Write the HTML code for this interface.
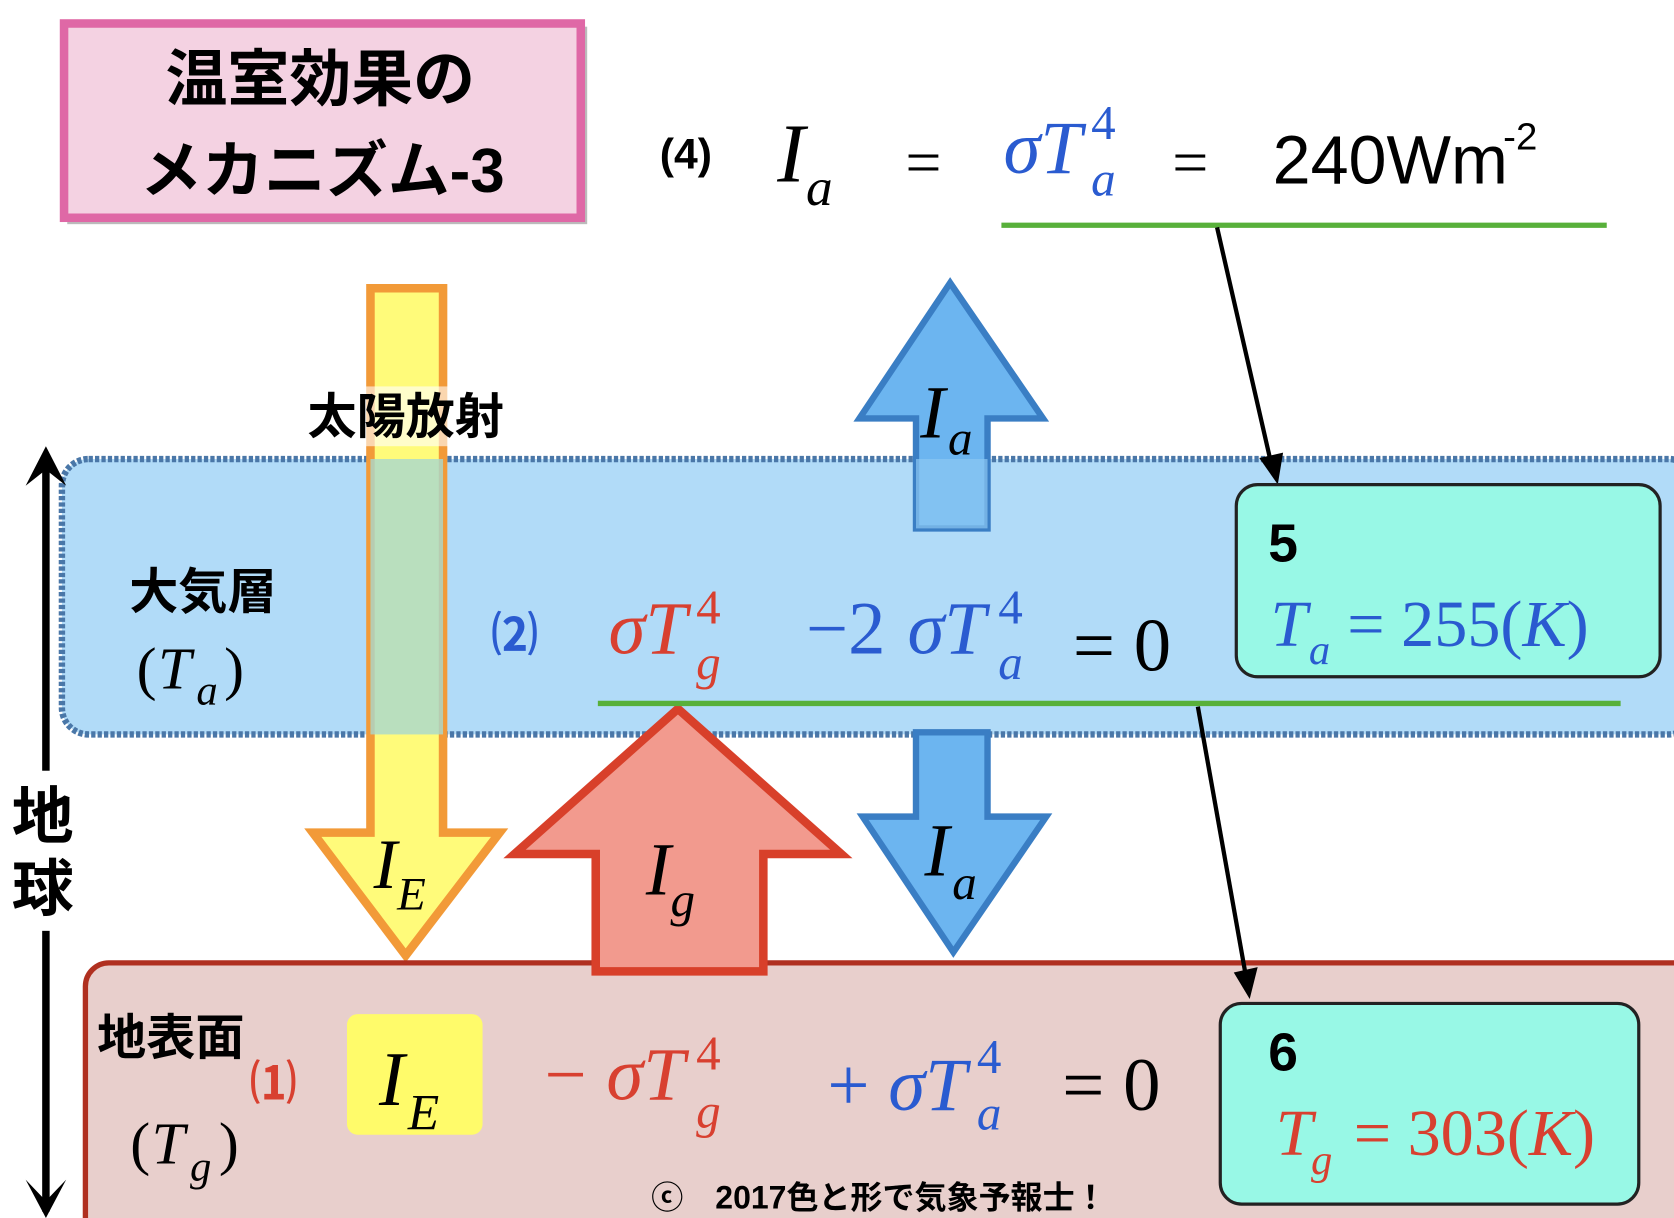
<!DOCTYPE html>
<html><head><meta charset="utf-8"><style>
html,body{margin:0;padding:0;background:#fff;}
svg{display:block;}
.jp{font-family:"Liberation Sans","Noto Sans CJK JP",sans-serif;font-weight:bold;}
.m{font-family:"Liberation Serif","DejaVu Serif",serif;}
</style></head><body>
<svg width="1674" height="1218" viewBox="0 0 1568 1141" preserveAspectRatio="none" xmlns="http://www.w3.org/2000/svg">
<rect width="1568" height="1141" fill="#fff"/>
<rect x="63" y="25" width="487" height="185" fill="#bbb"/>
<rect x="60" y="22" width="484" height="182" fill="#f4d2e2" stroke="#df68a6" stroke-width="8"/>
<text x="300" y="94" class="jp" font-size="58" text-anchor="middle">温室効果の</text>
<text x="302" y="180" class="jp" font-size="58" text-anchor="middle">メカニズム-3</text>
<text x="618" y="158" class="jp" font-size="40">(4)</text>
<text x="728" y="170" class="m" font-size="78" font-style="italic">I</text>
<text x="755" y="192" class="m" font-size="50" font-style="italic">a</text>
<text x="848" y="172" class="m" font-size="60">=</text>
<g fill="#2a5bd0" class="m" font-style="italic">
<text x="940" y="162" font-size="70">σT</text>
<text x="1022" y="183" font-size="46">a</text>
<text x="1022" y="130" font-size="46" font-style="normal">4</text>
</g>
<text x="1098" y="172" class="m" font-size="60">=</text>
<text x="1192" y="172" font-family="Liberation Sans,sans-serif" font-size="64">240Wm</text>
<text x="1408" y="140" font-family="Liberation Sans,sans-serif" font-size="36">-2</text>
<line x1="938" y1="211" x2="1505" y2="211" stroke="#58b03a" stroke-width="5"/>
<rect x="58" y="430" width="1530" height="258" rx="25" fill="#b1dbf8" stroke="#4a77a8" stroke-width="6" stroke-dasharray="4 2"/>
<line x1="1140" y1="213" x2="1192" y2="440" stroke="#000" stroke-width="4"/>
<polygon points="1182,430 1196,450 1200,426" fill="#000" stroke="#000" stroke-width="3"/>
<line x1="43" y1="430" x2="43" y2="1135" stroke="#000" stroke-width="7"/>
<polygon points="43,418 24,455 43,440 62,455" fill="#000"/>
<polygon points="43,1141 24,1105 43,1125 62,1105" fill="#000"/>
<rect x="8" y="722" width="70" height="150" fill="#fff"/>
<text x="40" y="785" class="jp" font-size="58" text-anchor="middle">地</text>
<text x="40" y="853" class="jp" font-size="58" text-anchor="middle">球</text>
<polygon points="347,270 415,270 415,780 468,780 380,895 293,780 347,780" fill="#fffb7a" stroke="#f29a38" stroke-width="8" stroke-linejoin="miter"/>
<rect x="347" y="430" width="68" height="258" fill="#a8d8d0" opacity="0.8"/>
<rect x="272" y="362" width="214" height="56" fill="#fff" opacity="0.6"/>
<text x="380" y="406" class="jp" font-size="46" text-anchor="middle">太陽放射</text>
<text x="350" y="832" class="m" font-size="66" font-style="italic">I</text>
<text x="372" y="852" class="m" font-size="44" font-style="italic">E</text>
<polygon points="890,265 977,392 925,392 925,495 858,495 858,392 805,392" fill="#6cb5f0" stroke="#3a7ec4" stroke-width="6"/>
<rect x="858" y="430" width="67" height="65" fill="#8cc8f2" opacity="0.7"/>
<text x="862" y="410" class="m" font-size="70" font-style="italic">I</text>
<text x="888" y="426" class="m" font-size="46" font-style="italic">a</text>
<polygon points="858,686 925,686 925,765 980,765 893,892 808,765 858,765" fill="#6cb5f0" stroke="#3a7ec4" stroke-width="6"/>
<text x="866" y="820" class="m" font-size="70" font-style="italic">I</text>
<text x="892" y="842" class="m" font-size="46" font-style="italic">a</text>
<rect x="80" y="902" width="1510" height="260" rx="22" fill="#e8cfcc" stroke="#b03020" stroke-width="5"/>
<polygon points="635,664 788,800 715,800 715,910 558,910 558,800 482,800" fill="#f29a8e" stroke="#d8402a" stroke-width="8"/>
<text x="605" y="838" class="m" font-size="70" font-style="italic">I</text>
<text x="628" y="858" class="m" font-size="46" font-style="italic">g</text>
<text x="190" y="570" class="jp" font-size="46" text-anchor="middle">大気層</text>
<text x="128" y="645" class="m" font-size="56">(</text><text x="148" y="645" class="m" font-size="56" font-style="italic">T</text><text x="184" y="660" class="m" font-size="40" font-style="italic">a</text><text x="210" y="645" class="m" font-size="56">)</text>
<text x="460" y="610" class="jp" font-size="44" fill="#2a5bd0">⑵</text>
<g class="m" font-style="italic" fill="#d84030">
<text x="570" y="612" font-size="70">σT</text><text x="652" y="636" font-size="46">g</text><text x="652" y="584" font-size="46" font-style="normal">4</text>
</g>
<g class="m" font-style="italic" fill="#2a5bd0">
<text x="755" y="612" font-size="70" font-style="normal">−2</text><text x="850" y="612" font-size="70">σT</text><text x="935" y="636" font-size="46">a</text><text x="935" y="584" font-size="46" font-style="normal">4</text>
</g>
<text x="1005" y="628" class="m" font-size="70">= 0</text>
<line x1="560" y1="659" x2="1518" y2="659" stroke="#58b03a" stroke-width="5"/>
<line x1="1122" y1="662" x2="1168" y2="920" stroke="#000" stroke-width="4"/>
<polygon points="1158,912 1170,932 1176,908" fill="#000" stroke="#000" stroke-width="3"/>
<rect x="1158" y="454" width="397" height="180" rx="20" fill="#98f8e6" stroke="#222" stroke-width="3"/>
<text x="1188" y="526" font-family="Liberation Sans,sans-serif" font-weight="bold" font-size="50">5</text>
<g class="m" fill="#2a5bd0"><text x="1190" y="605" font-size="62" font-style="italic">T</text><text x="1226" y="622" font-size="40" font-style="italic">a</text><text x="1262" y="605" font-size="62">= 255(<tspan font-style="italic">K</tspan>)</text></g>
<rect x="1143" y="940" width="392" height="188" rx="20" fill="#98f8e6" stroke="#222" stroke-width="3"/>
<text x="1188" y="1003" font-family="Liberation Sans,sans-serif" font-weight="bold" font-size="50">6</text>
<g class="m" fill="#d84030"><text x="1195" y="1082" font-size="62" font-style="italic">T</text><text x="1228" y="1100" font-size="40" font-style="italic">g</text><text x="1268" y="1082" font-size="62">= 303(<tspan font-style="italic">K</tspan>)</text></g>
<text x="160" y="988" class="jp" font-size="46" text-anchor="middle">地表面</text>
<text x="122" y="1090" class="m" font-size="56">(</text><text x="142" y="1090" class="m" font-size="56" font-style="italic">T</text><text x="178" y="1106" class="m" font-size="40" font-style="italic">g</text><text x="205" y="1090" class="m" font-size="56">)</text>
<text x="234" y="1030" class="jp" font-size="44" fill="#d84030">⑴</text>
<rect x="325" y="950" width="127" height="113" rx="10" fill="#fffb6a"/>
<text x="355" y="1035" class="m" font-size="72" font-style="italic">I</text>
<text x="382" y="1058" class="m" font-size="48" font-style="italic">E</text>
<g class="m" font-style="italic" fill="#d84030">
<text x="510" y="1030" font-size="70" font-style="normal">−</text><text x="568" y="1030" font-size="70">σT</text><text x="652" y="1056" font-size="46">g</text><text x="652" y="1002" font-size="46" font-style="normal">4</text>
</g>
<g class="m" font-style="italic" fill="#2a5bd0">
<text x="775" y="1040" font-size="70" font-style="normal">+</text><text x="832" y="1040" font-size="70">σT</text><text x="915" y="1058" font-size="46">a</text><text x="915" y="1005" font-size="46" font-style="normal">4</text>
</g>
<text x="995" y="1040" class="m" font-size="70">= 0</text>
<text x="610" y="1132" class="jp" font-size="30">ⓒ　2017色と形で気象予報士！</text>
</svg>
</body></html>
